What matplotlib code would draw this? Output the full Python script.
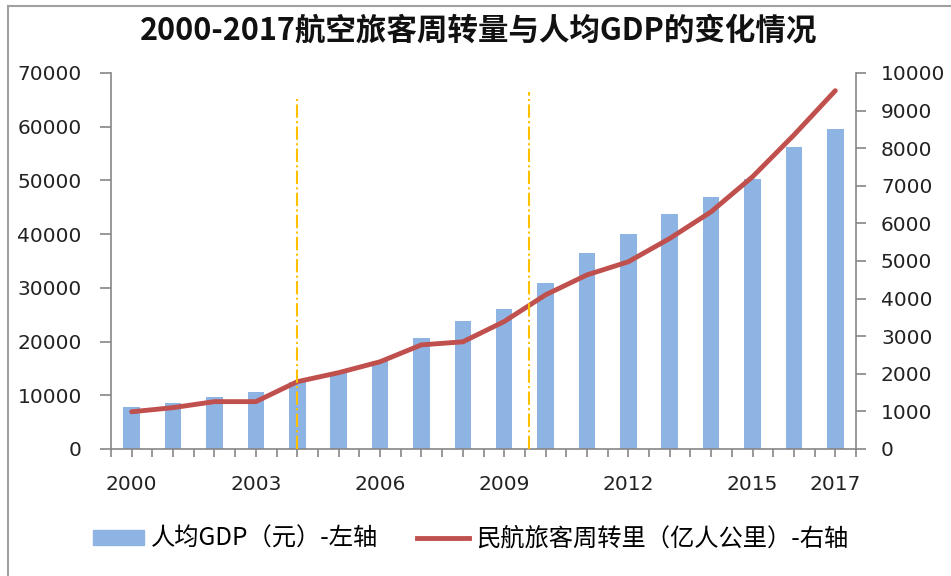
import numpy as np
import matplotlib
matplotlib.use('Agg')
from matplotlib import pyplot as plt
from matplotlib.lines import Line2D
from matplotlib.patches import Patch

plt.rcParams['font.family'] = ['Noto Sans CJK SC', 'DejaVu Sans']

# data
years = list(range(2000, 2018))
gdp = [7800, 8500, 9600, 10700, 12500, 14100, 16300, 20600, 23900, 26100,
       30900, 36400, 40000, 43700, 47000, 50300, 56200, 59500]
rpk = [990, 1100, 1260, 1260, 1790, 2030, 2320, 2770, 2850, 3390,
       4100, 4630, 4980, 5600, 6310, 7240, 8350, 9530]
shown_years = [2000, 2003, 2006, 2009, 2012, 2015, 2017]
# dash-dot markers (category position, top in left-axis units)
marks_x = [4, 9.6]
marks_top = [65700, 66500]

title = '2000-2017航空旅客周转量与人均GDP的变化情况'
label_gdp = '人均GDP（元）-左轴'
label_rpk = '民航旅客周转里（亿人公里）-右轴'

bar_color = '#8DB4E2'
line_color = '#C0504D'
grey = '#868686'

fig = plt.figure(figsize=(9.51, 5.76), dpi=100)
ax = fig.add_axes([111 / 951, 1 - 449 / 576, (856 - 111) / 951, (449 - 73) / 576])
ax2 = ax.twinx()

x = np.arange(len(years))
ax.bar(x, gdp, width=0.4, color=bar_color, zorder=2)
ax2.plot(x, rpk, color=line_color, lw=3.5, solid_capstyle='round', zorder=3)
for mx, mt in zip(marks_x, marks_top):
    ax2.axvline(mx, ymin=0, ymax=mt / 70000, color='#FFC000', ls='-.', lw=1.5, zorder=4)

ax.set_xlim(-0.5, len(years) - 0.5)
ax.set_ylim(0, 70000)
ax2.set_ylim(0, 10000)
ax.set_yticks(np.arange(0, 70001, 10000))
ax2.set_yticks(np.arange(0, 10001, 1000))

# ticks at category boundaries and centres, labels only on some centres
ax.set_xticks(np.arange(-0.5, len(years), 1.0))
ax.set_xticklabels([])
ax.set_xticks(x, minor=True)
ax.set_xticklabels([str(y) if y in shown_years else '' for y in years], minor=True)

for lab in ax.get_xticklabels(minor=True) + ax.get_yticklabels() + ax2.get_yticklabels():
    lab.set_fontfamily('DejaVu Sans')
    lab.set_fontsize(14.5)
    lab.set_color('#222222')

ax.tick_params(axis='x', which='both', direction='out', length=6, width=1.2, color=grey, pad=13)
ax.tick_params(axis='y', direction='out', length=8, width=1.2, color=grey, pad=13)
ax2.tick_params(axis='y', direction='out', length=7, width=1.2, color=grey, pad=11)

for a in (ax, ax2):
    a.spines['top'].set_visible(False)
    for s in ('left', 'right', 'bottom'):
        a.spines[s].set_color(grey)
        a.spines[s].set_linewidth(1.2)
ax.spines['right'].set_visible(False)
ax2.spines['left'].set_visible(False)
ax2.spines['bottom'].set_visible(False)

fig.text(479 / 951, 1 - 31 / 576, title, ha='center', va='center',
         fontsize=22, fontweight='bold', color='#111111')

handles = [Patch(color=bar_color, label=label_gdp),
           Line2D([], [], color=line_color, lw=3.5, label=label_rpk)]
fig.legend(handles=handles, loc='center left', bbox_to_anchor=(93 / 951, 1 - 539 / 576),
           ncol=2, frameon=False, fontsize=17.5, borderpad=0, borderaxespad=0,
           handlelength=2.1, handleheight=0.6, handletextpad=0.3, columnspacing=1.6)

# outer chart frame (only left and top edges are visible in the crop)
fig.add_artist(Line2D([8 / 951, 8 / 951], [0, 1 - 6 / 576], transform=fig.transFigure, color='#a0a0a0', lw=1.5))
fig.add_artist(Line2D([8 / 951, 1], [1 - 6 / 576, 1 - 6 / 576], transform=fig.transFigure, color='#a0a0a0', lw=1.5))

plt.savefig('out.png', dpi=100)
